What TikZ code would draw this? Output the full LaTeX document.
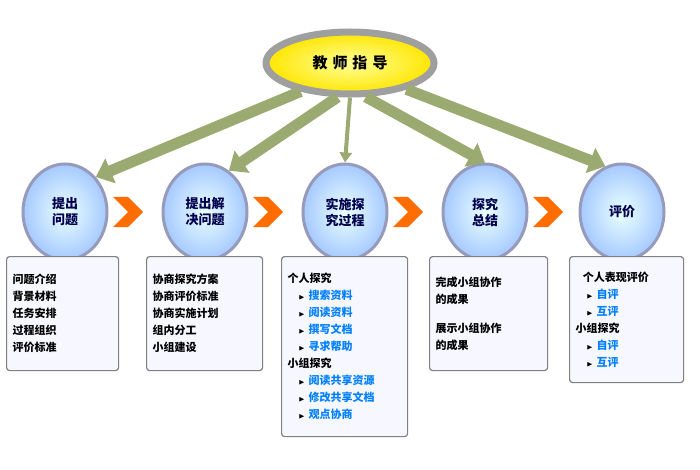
\documentclass[tikz,border=0pt]{standalone}
\usepackage{fontspec}
\setmainfont{Noto Sans CJK SC}
\usepackage{amssymb}
\usetikzlibrary{positioning}
\usetikzlibrary{calc}
\usetikzlibrary{arrows.meta}
\usetikzlibrary{shapes.geometric}
\usetikzlibrary{shapes.symbols}
\tikzset{
    % Blue disc of one step
    step disc/.style={
        draw=cyan!30!blue!40!gray!70, line width=3pt, ellipse,
        inner color=cyan!8, outer color=cyan!40!blue!35,
        minimum width=84pt, minimum height=96pt,
        align=center, font=\bfseries\fontsize{13}{16}\selectfont,
        text=blue!30!black},
%
    % Orange chevron between two steps
    chevron/.style={
        signal, signal to=east, signal from=west, fill=orange!85!red,
        minimum width=24pt, minimum height=30pt, inner sep=0pt},
%
    % Text box under a step
    list box/.style={
        draw=gray, line width=1.2pt, rounded corners=3pt, fill=blue!3,
        anchor=north west, align=left, inner sep=6pt, text width=#1,
        font=\bfseries\fontsize{11}{17}\selectfont},
%
    % Broad green arrow from the top
    guide arrow/.style={
        line width=11pt, draw=olive!60!green!50!gray!80,
        -{Triangle[width=26pt,length=16pt]}}}
\newcommand{\sub}[1]{\quad{\scriptsize$\blacktriangleright$}~\textcolor{blue!50!cyan}{#1}}

\begin{document}
\begin{tikzpicture}[x=1pt, y=-1pt]
\useasboundingbox (0,0) rectangle (700,470);

% Teacher guidance
\node [ellipse, draw=gray!75, line width=7pt,
    inner color=yellow!40, outer color=yellow!80!orange,
    minimum width=168pt, minimum height=62pt,
    font=\bfseries\fontsize{15}{18}\selectfont]
    (teacher) at (350,63) {教\,\,师\,\,指\,\,导};

% Steps
\node [step disc] (ask) at (65,212) {提出\\问题};
\node [step disc] (plan) at (205,212) {提出解\\决问题};
\node [step disc] (do) at (345,212) {实施探\\究过程};
\node [step disc] (sum) at (485,212) {探究\\总结};
\node [step disc] (eval) at (622,212) {评价};

\foreach \x [count=\i] in {128,268,408,548}
    \node [chevron] (chev \i) at (\x,212) {};

% Guidance arrows
\draw [guide arrow] (teacher.210) -- (ask.north east);
\draw [guide arrow] (teacher.250) -- (plan.60);
\draw [guide arrow, line width=4pt,
    -{Triangle[width=12pt,length=10pt]}] (teacher.south) -- (do.north);
\draw [guide arrow] (teacher.295) -- (sum.north);
\draw [guide arrow] (teacher.335) -- (eval.110);

% Boxes
\node [list box=100pt, minimum height=114pt] (ask box) at (6,256)
    {问题介绍\\背景材料\\任务安排\\过程组织\\评价标准};
\node [list box=104pt, minimum height=114pt] (plan box) at (146,256)
    {协商探究方案\\协商评价标准\\协商实施计划\\组内分工\\小组建设};
\node [list box=114pt, minimum height=180pt] (do box) at (281,256)
    {个人探究\\\sub{搜索资料}\\\sub{阅读资料}\\\sub{撰写文档}\\\sub{寻求帮助}\\
    小组探究\\\sub{阅读共享资源}\\\sub{修改共享文档}\\\sub{观点协商}};
\node [list box=106pt, minimum height=114pt] (sum box) at (429,256)
    {完成小组协作\\的成果\\[12pt]展示小组协作\\的成果};
\node [list box=102pt, minimum height=126pt] (eval box) at (569,256)
    {\ \ 个人表现评价\\\sub{自评}\\\sub{互评}\\小组探究\\\sub{自评}\\\sub{互评}};

\end{tikzpicture}
\end{document}
